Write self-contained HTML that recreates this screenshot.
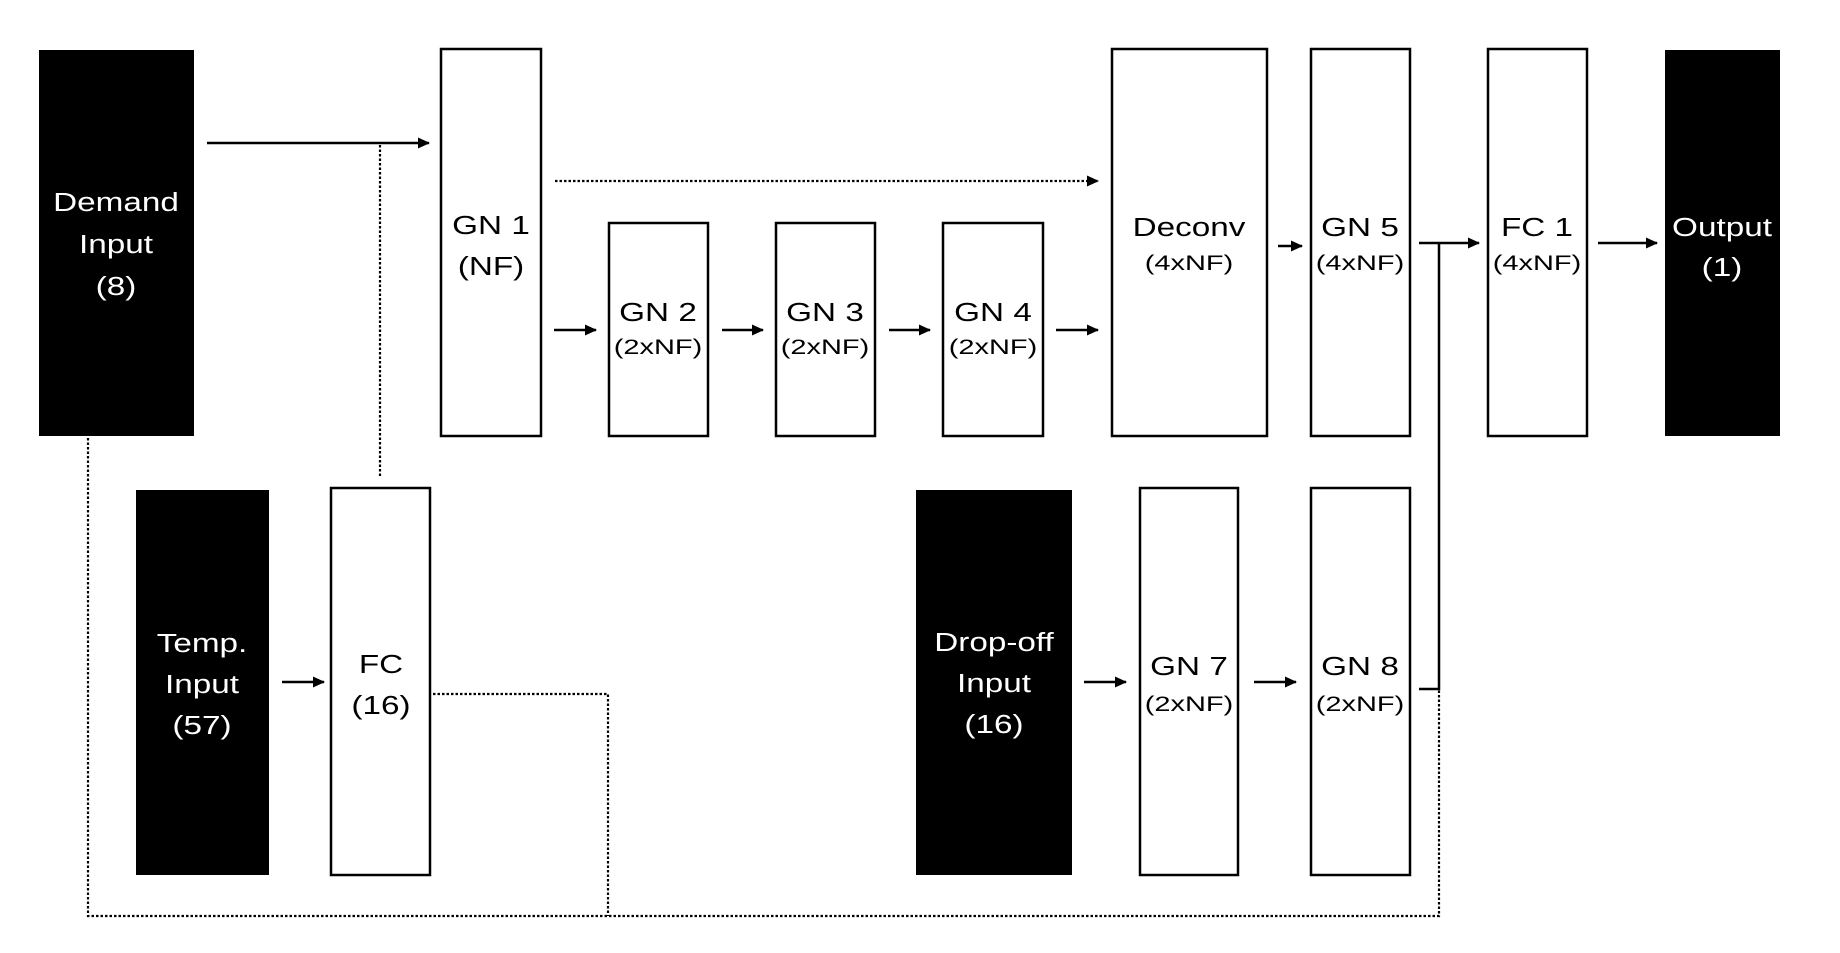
<!DOCTYPE html>
<html><head><meta charset="utf-8"><style>
html,body{margin:0;padding:0;background:#fff;}
svg{display:block;}
text{font-family:"Liberation Sans",Arial,sans-serif;text-anchor:middle;}
.m{font-size:26px;}
.s{font-size:21px;}
</style></head><body>
<svg width="1840" height="953" viewBox="0 0 1840 953" xmlns="http://www.w3.org/2000/svg">
<defs>
<marker id="a" markerWidth="12" markerHeight="12" refX="11" refY="6" orient="auto" markerUnits="userSpaceOnUse">
<path d="M0,0.5 L12,6 L0,11.5 Z" fill="#000"/>
</marker>
</defs>
<!-- black boxes -->
<rect x="39" y="50" width="155" height="386" fill="#000"/>
<rect x="136" y="490" width="133" height="385" fill="#000"/>
<rect x="916" y="490" width="156" height="385" fill="#000"/>
<rect x="1665" y="50" width="115" height="386" fill="#000"/>
<!-- white boxes -->
<g fill="#fff" stroke="#000" stroke-width="2.5">
<rect x="441" y="49" width="100" height="387"/>
<rect x="609" y="223" width="99" height="213"/>
<rect x="776" y="223" width="99" height="213"/>
<rect x="943" y="223" width="100" height="213"/>
<rect x="1112" y="49" width="155" height="387"/>
<rect x="1311" y="49" width="99" height="387"/>
<rect x="1488" y="49" width="99" height="387"/>
<rect x="331" y="488" width="99" height="387"/>
<rect x="1140" y="488" width="98" height="387"/>
<rect x="1311" y="488" width="99" height="387"/>
</g>
<!-- solid arrows -->
<g stroke="#000" stroke-width="2.5" fill="none">
<line x1="207" y1="143" x2="429" y2="143" marker-end="url(#a)"/>
<line x1="554" y1="330" x2="596" y2="330" marker-end="url(#a)"/>
<line x1="722" y1="330" x2="763" y2="330" marker-end="url(#a)"/>
<line x1="889" y1="330" x2="930" y2="330" marker-end="url(#a)"/>
<line x1="1056" y1="330" x2="1098" y2="330" marker-end="url(#a)"/>
<line x1="1278" y1="246" x2="1302" y2="246" marker-end="url(#a)"/>
<line x1="1419" y1="243" x2="1479" y2="243" marker-end="url(#a)"/>
<line x1="1598" y1="243" x2="1657" y2="243" marker-end="url(#a)"/>
<line x1="282" y1="682" x2="324" y2="682" marker-end="url(#a)"/>
<line x1="1084" y1="682" x2="1126" y2="682" marker-end="url(#a)"/>
<line x1="1254" y1="682" x2="1296" y2="682" marker-end="url(#a)"/>
<polyline points="1419,689 1439,689 1439,243"/>
</g>
<!-- dotted -->
<g stroke="#000" stroke-width="2.2" fill="none" stroke-dasharray="2.5,2">
<line x1="555" y1="181" x2="1098" y2="181" marker-end="url(#a)"/>
<line x1="380" y1="145" x2="380" y2="478"/>
<polyline points="88,438 88,916 1439,916 1439,689"/>
<polyline points="433,694 608,694 608,916"/>
</g>
<!-- labels -->
<g fill="#fff">
<g transform="translate(116,0) scale(1.28,1)"><text class="m" x="0" y="211">Demand</text><text class="m" x="0" y="253">Input</text><text class="m" x="0" y="295">(8)</text></g>
<g transform="translate(202,0) scale(1.28,1)"><text class="m" x="0" y="652">Temp.</text><text class="m" x="0" y="693">Input</text><text class="m" x="0" y="734">(57)</text></g>
<g transform="translate(994,0) scale(1.28,1)"><text class="m" x="0" y="651">Drop-off</text><text class="m" x="0" y="692">Input</text><text class="m" x="0" y="733">(16)</text></g>
<g transform="translate(1722,0) scale(1.28,1)"><text class="m" x="0" y="236">Output</text><text class="m" x="0" y="276">(1)</text></g>
</g>
<g fill="#000">
<g transform="translate(491,0) scale(1.28,1)"><text class="m" x="0" y="234">GN 1</text><text class="m" x="0" y="275">(NF)</text></g>
<g transform="translate(381,0) scale(1.28,1)"><text class="m" x="0" y="673">FC</text><text class="m" x="0" y="714">(16)</text></g>
<g transform="translate(658,0) scale(1.28,1)"><text class="m" x="0" y="321">GN 2</text></g>
<g transform="translate(658,0) scale(1.38,1)"><text class="s" x="0" y="354">(2xNF)</text></g>
<g transform="translate(825,0) scale(1.28,1)"><text class="m" x="0" y="321">GN 3</text></g>
<g transform="translate(825,0) scale(1.38,1)"><text class="s" x="0" y="354">(2xNF)</text></g>
<g transform="translate(993,0) scale(1.28,1)"><text class="m" x="0" y="321">GN 4</text></g>
<g transform="translate(993,0) scale(1.38,1)"><text class="s" x="0" y="354">(2xNF)</text></g>
<g transform="translate(1189,0) scale(1.28,1)"><text class="m" x="0" y="236">Deconv</text></g>
<g transform="translate(1189,0) scale(1.38,1)"><text class="s" x="0" y="270">(4xNF)</text></g>
<g transform="translate(1360,0) scale(1.28,1)"><text class="m" x="0" y="236">GN 5</text></g>
<g transform="translate(1360,0) scale(1.38,1)"><text class="s" x="0" y="270">(4xNF)</text></g>
<g transform="translate(1537,0) scale(1.28,1)"><text class="m" x="0" y="236">FC 1</text></g>
<g transform="translate(1537,0) scale(1.38,1)"><text class="s" x="0" y="270">(4xNF)</text></g>
<g transform="translate(1189,0) scale(1.28,1)"><text class="m" x="0" y="675">GN 7</text></g>
<g transform="translate(1189,0) scale(1.38,1)"><text class="s" x="0" y="711">(2xNF)</text></g>
<g transform="translate(1360,0) scale(1.28,1)"><text class="m" x="0" y="675">GN 8</text></g>
<g transform="translate(1360,0) scale(1.38,1)"><text class="s" x="0" y="711">(2xNF)</text></g>
</g>
</svg>
</body></html>
